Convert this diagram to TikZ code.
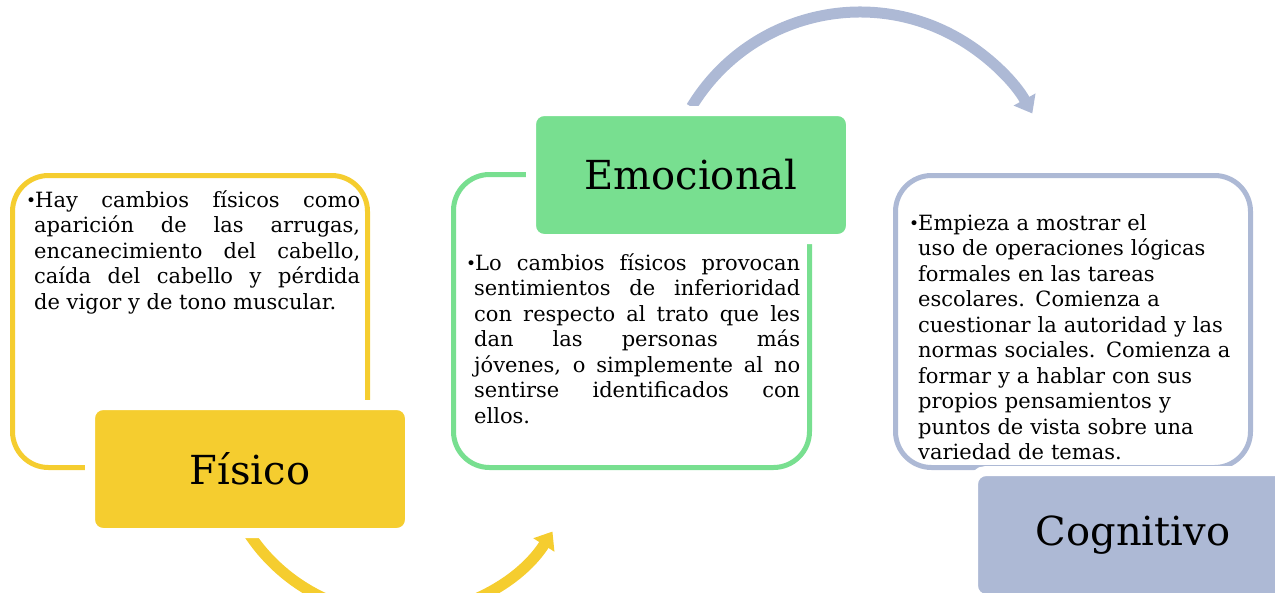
\documentclass[tikz,border=0pt]{standalone}
\usepackage{fontspec}
\setmainfont{DejaVu Serif}
\usetikzlibrary{arrows.meta}
\usetikzlibrary{positioning}
\usetikzlibrary{calc}
\definecolor{fisico}{HTML}{F5CD2F}
\definecolor{emocional}{HTML}{78DF90}
\definecolor{cognitivo}{HTML}{ADB9D5}
\newcommand{\bul}{\makebox[9pt][l]{\raisebox{0.5pt}{\fontsize{17}{17}\selectfont\textbullet}}}

\begin{document}
\begin{tikzpicture}[x=1pt,y=-1pt,
box_style/.style={draw,fill=white,line width=5pt,rounded corners=36pt,inner sep=0pt},
label_style/.style={draw=white,line width=10pt,rounded corners=13pt,minimum width=320pt,minimum height=128pt,inner sep=0pt,font=\fontsize{40}{40}\selectfont},
text_style/.style={anchor=base west,inner sep=0pt,font=\fontsize{21}{25.5}\selectfont},
arc_style/.style={line width=11pt,-{Triangle[width=24pt,length=16pt]}}]
\useasboundingbox (0,0) rectangle (1275,592);
\clip (0,0) rectangle (1275,592);

% boxes
\node[box_style,draw=fisico,minimum width=355pt,minimum height=292pt] (fis_box) at (190,321.5) {};
\node[box_style,draw=emocional,minimum width=356pt,minimum height=293pt] (emo_box) at (631.5,321) {};
\node[box_style,draw=cognitivo,minimum width=355pt,minimum height=292pt] (cog_box) at (1073,321.5) {};

% texts
\node[text_style,text width=334pt,align=justify] (fis_text) at (26,207)
 {\leavevmode\hangindent=8pt\hangafter=1\bul Hay cambios físicos como\linebreak aparición de las arrugas,\linebreak encanecimiento del cabello,\linebreak caída del cabello y pérdida\linebreak de vigor y de tono muscular.\par};
\node[text_style,text width=334pt,align=justify] (emo_text) at (466,270)
 {\leavevmode\hangindent=8pt\hangafter=1\bul Lo cambios físicos provocan\linebreak sentimientos de inferioridad\linebreak con respecto al trato que les\linebreak dan las personas más\linebreak jóvenes, o simplemente al no\linebreak sentirse identificados con\linebreak ellos.\par};
\node[text_style,text width=340pt,align=left] (cog_text) at (909,230)
 {\leavevmode\hangindent=9pt\hangafter=1\bul Empieza a mostrar el\newline uso de operaciones lógicas\newline formales en las tareas\newline escolares. Comienza a\newline cuestionar la autoridad y las\newline normas sociales. Comienza a\newline formar y a hablar con sus\newline propios pensamientos y\newline puntos de vista sobre una\newline variedad de temas.\par};

% arrows
\coordinate (fis_c) at (400,434);
\coordinate (fis_from) at ($(fis_c)+(146.4:181)$);
\draw[arc_style,fisico] (fis_from) arc[start angle=146.4,end angle=32.6,radius=181];
\coordinate (emo_c) at (860,209);
\coordinate (emo_from) at ($(emo_c)+(211.2:197)$);
\draw[arc_style,cognitivo] (emo_from) arc[start angle=211.2,end angle=331,radius=197];

% labels
\node[label_style,fill=fisico] (fis) at (250,469) {Físico};
\node[label_style,fill=emocional] (emo) at (691,175) {Emocional};
\node[label_style,fill=cognitivo] (cog) at (1133,535) {Cognitivo};
\end{tikzpicture}
\end{document}
